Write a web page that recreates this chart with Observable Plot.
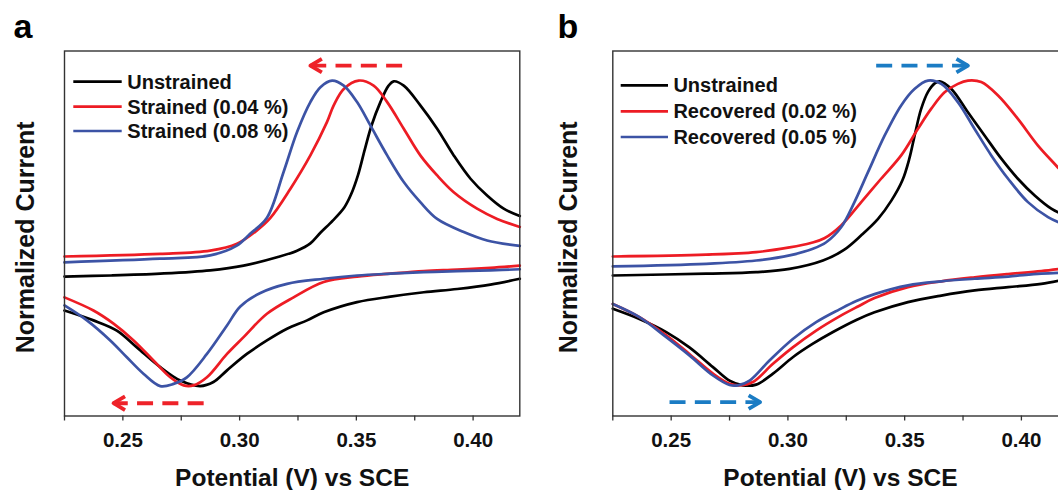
<!DOCTYPE html>
<html><head><meta charset="utf-8">
<script src="https://cdn.jsdelivr.net/npm/d3@7"></script>
<script src="https://cdn.jsdelivr.net/npm/@observablehq/plot@0.6"></script>
<style>
html,body{margin:0;padding:0;background:#fff;overflow:hidden;}
#wrap{position:relative;width:1058px;height:490px;overflow:hidden;background:#fff;}
#pa{position:absolute;left:0;top:0;width:529px;height:490px;}
#pb{position:absolute;left:529px;top:0;width:548px;height:490px;}
</style></head><body><div id="wrap"><div id="pa"></div><div id="pb"></div></div>
<script>
const FONT = "'Liberation Sans', Arial, Helvetica, sans-serif";

// x axis
const xDomain = [0.225, 0.42];
const majorTicks = [0.25, 0.30, 0.35, 0.40];
const minorTicks = [0.225, 0.275, 0.325, 0.375];
const xLabel = "Potential (V) vs SCE";
const yLabel = "Normalized Current";

// series names and colours
const namesA = ["Unstrained", "Strained (0.04 %)", "Strained (0.08 %)"];
const namesB = ["Unstrained", "Recovered (0.02 %)", "Recovered (0.05 %)"];
const lineColors = ["#000000", "#ed1c24", "#3c53a5"];

// Panel a: forward (upper) and reverse (lower) sweeps, [potential, normalized current]
const aUnstrainedFwd = [[0.2250,38.2],[0.2450,38.5],[0.2660,39.0],[0.2874,39.9],[0.3017,41.2],[0.3160,43.5],[0.3246,45.3],[0.3303,47.3],[0.3346,50.2],[0.3400,53.6],[0.3449,57.2],[0.3478,60.8],[0.3507,66.0],[0.3536,73.0],[0.3565,79.6],[0.3603,86.0],[0.3638,90.5],[0.3660,91.7],[0.3703,90.5],[0.3774,85.1],[0.3846,78.7],[0.3917,71.4],[0.3989,65.0],[0.4060,60.4],[0.4131,56.8],[0.4200,54.8]];
const aUnstrainedRev = [[0.4200,37.6],[0.4074,36.0],[0.3932,34.8],[0.3789,33.9],[0.3646,32.7],[0.3503,31.2],[0.3360,28.4],[0.3289,26.2],[0.3203,23.9],[0.3117,20.7],[0.3031,17.0],[0.2946,12.5],[0.2888,9.3],[0.2831,8.2],[0.2746,9.7],[0.2660,13.4],[0.2560,18.8],[0.2474,23.4],[0.2374,26.2],[0.2250,28.9]];
const aStrain04Fwd = [[0.2250,43.7],[0.2660,44.4],[0.2874,45.3],[0.2989,47.2],[0.3073,50.8],[0.3131,54.2],[0.3217,62.2],[0.3303,71.4],[0.3374,80.5],[0.3403,85.1],[0.3446,89.6],[0.3510,91.9],[0.3574,90.5],[0.3632,86.0],[0.3703,78.7],[0.3774,71.4],[0.3846,65.9],[0.3917,61.3],[0.4017,56.8],[0.4103,54.0],[0.4200,51.8]];
const aStrain04Rev = [[0.4200,41.2],[0.4074,40.6],[0.3932,40.1],[0.3789,39.7],[0.3646,39.0],[0.3503,38.2],[0.3360,36.7],[0.3231,32.5],[0.3117,28.0],[0.3017,21.6],[0.2946,17.0],[0.2860,10.6],[0.2803,8.4],[0.2760,8.4],[0.2703,10.6],[0.2631,15.2],[0.2546,20.7],[0.2460,25.3],[0.2374,28.9],[0.2250,32.5]];
const aStrain08Fwd = [[0.2250,42.1],[0.2660,43.1],[0.2874,44.0],[0.2986,46.6],[0.3045,49.9],[0.3117,54.3],[0.3188,66.8],[0.3246,77.8],[0.3303,86.0],[0.3346,90.1],[0.3396,91.9],[0.3446,90.5],[0.3503,86.0],[0.3560,79.6],[0.3632,71.4],[0.3703,64.1],[0.3774,58.6],[0.3846,54.0],[0.3960,50.4],[0.4060,48.1],[0.4200,46.6]];
const aStrain08Rev = [[0.4200,40.2],[0.4074,39.9],[0.3932,39.7],[0.3789,39.4],[0.3646,39.0],[0.3503,38.5],[0.3360,37.6],[0.3203,36.2],[0.3089,33.7],[0.3003,30.0],[0.2946,24.8],[0.2860,17.0],[0.2774,10.6],[0.2717,8.8],[0.2660,8.2],[0.2588,11.6],[0.2517,16.1],[0.2446,20.7],[0.2346,26.2],[0.2250,30.3]];

// Panel b
const bUnstrainedFwd = [[0.2250,38.5],[0.2650,39.0],[0.2864,39.4],[0.3007,40.3],[0.3150,42.6],[0.3240,45.5],[0.3314,49.5],[0.3386,54.0],[0.3443,59.0],[0.3490,64.5],[0.3520,70.5],[0.3545,77.5],[0.3570,84.0],[0.3600,88.8],[0.3630,91.2],[0.3650,91.7],[0.3700,89.6],[0.3771,83.2],[0.3843,76.8],[0.3914,70.5],[0.3985,65.0],[0.4057,60.4],[0.4128,56.8],[0.4200,54.6]];
const bUnstrainedRev = [[0.4200,37.6],[0.4085,36.2],[0.3943,35.3],[0.3800,34.4],[0.3657,33.0],[0.3514,31.2],[0.3371,28.4],[0.3293,26.3],[0.3193,23.0],[0.3107,19.8],[0.3021,16.1],[0.2936,11.6],[0.2864,8.6],[0.2807,8.4],[0.2750,9.7],[0.2679,13.4],[0.2578,18.8],[0.2479,23.0],[0.2364,26.6],[0.2250,29.4]];
const bRecov02Fwd = [[0.2250,43.7],[0.2650,44.2],[0.2864,44.9],[0.3007,46.2],[0.3098,47.4],[0.3156,48.7],[0.3228,52.2],[0.3314,58.6],[0.3399,65.0],[0.3485,71.4],[0.3557,78.7],[0.3614,84.2],[0.3671,88.7],[0.3728,91.0],[0.3771,91.9],[0.3828,91.5],[0.3900,87.8],[0.3985,81.4],[0.4071,74.1],[0.4162,67.7],[0.4200,64.8]];
const bRecov02Rev = [[0.4200,40.6],[0.4085,39.7],[0.3943,38.9],[0.3800,38.0],[0.3657,36.9],[0.3514,35.3],[0.3371,32.3],[0.3300,30.0],[0.3221,27.3],[0.3121,23.4],[0.3021,18.8],[0.2936,14.3],[0.2850,9.3],[0.2793,8.4],[0.2750,8.8],[0.2679,11.6],[0.2578,17.0],[0.2479,22.1],[0.2364,27.1],[0.2250,30.7]];
const bRecov05Fwd = [[0.2250,41.0],[0.2650,41.7],[0.2864,42.6],[0.3007,44.0],[0.3107,45.8],[0.3164,47.6],[0.3228,51.7],[0.3285,58.6],[0.3343,66.8],[0.3414,76.8],[0.3485,85.1],[0.3542,89.6],[0.3600,91.9],[0.3657,91.0],[0.3728,86.0],[0.3799,78.7],[0.3871,71.4],[0.3943,65.0],[0.4028,58.6],[0.4114,54.5],[0.4200,52.0]];
const bRecov05Rev = [[0.4200,39.3],[0.4085,39.0],[0.3943,38.2],[0.3800,37.6],[0.3657,36.9],[0.3514,35.8],[0.3371,33.4],[0.3293,31.5],[0.3221,29.2],[0.3121,25.7],[0.3021,21.1],[0.2921,15.2],[0.2836,9.7],[0.2786,8.4],[0.2750,8.5],[0.2679,11.1],[0.2578,16.6],[0.2479,21.6],[0.2364,27.1],[0.2250,30.7]];

// shift arrows: start potential, tip potential, level
const arrowStartA = [0.3696, 0.2846];
const arrowTipA = [0.3303, 0.2460];
const arrowLevelA = [96.0, 3.5];
const arrowStartB = [0.3378, 0.2493];
const arrowTipB = [0.3771, 0.2881];
const arrowLevelB = [96.0, 3.8];

const chevron = {
  draw(ctx, l) {
    ctx.moveTo(-6.8, -l + 11.5);
    ctx.lineTo(0, -l);
    ctx.lineTo(6.8, -l + 11.5);
  }
};

function panel(cfg) {
  const marks = [];
  cfg.series.forEach((br, s) => {
    const rows = [];
    br.forEach((arr, b) => arr.forEach(([x, y]) => rows.push({x, y, b})));
    marks.push(Plot.line(rows, {x: "x", y: "y", z: "b", stroke: lineColors[s], strokeWidth: 2.7, curve: "catmull-rom"}));
  });
  const idx = cfg.arrowStart.map((_, i) => i);
  marks.push(Plot.link(idx, {
    x1: i => cfg.arrowStart[i], x2: i => cfg.arrowTip[i],
    y1: i => cfg.arrowLevel[i], y2: i => cfg.arrowLevel[i],
    stroke: cfg.arrowColor, strokeWidth: 3.8, strokeDasharray: "16,9.3"
  }));
  marks.push(Plot.vector(idx, {
    x: i => cfg.arrowTip[i], y: i => cfg.arrowLevel[i],
    rotate: i => cfg.arrowTip[i] > cfg.arrowStart[i] ? 90 : -90,
    length: 12, anchor: "end", shape: chevron,
    stroke: cfg.arrowColor, strokeWidth: 3.8, strokeLinejoin: "round", strokeLinecap: "butt"
  }));
  marks.push(Plot.frame({stroke: "#333", strokeWidth: 1.4}));
  marks.push(Plot.axisX(majorTicks, {tickSize: 5, tickPadding: 11, tickFormat: d3.format(".2f"),
    fontSize: 20.5, fontWeight: "bold", label: null, stroke: "#333", strokeWidth: 1.3, fill: "#111"}));
  marks.push(Plot.axisX(minorTicks, {tickSize: 5, tickFormat: () => "", label: null, stroke: "#333", strokeWidth: 1.3}));
  marks.push(Plot.text([xLabel], {text: d => d, frameAnchor: "bottom", dy: 69.8, lineAnchor: "bottom",
    fontSize: 24.5, fontWeight: "bold", fill: "#111"}));
  marks.push(Plot.text([yLabel], {text: d => d, frameAnchor: "left", rotate: -90, dx: cfg.yLabelDx, dy: 3.8,
    lineAnchor: "bottom", textAnchor: "middle", fontSize: 25, fontWeight: "bold", fill: "#111"}));
  marks.push(Plot.text([cfg.letter], {text: d => d, frameAnchor: "top-left", dx: cfg.letterDx, dy: -13.3,
    lineAnchor: "bottom", textAnchor: "start", fontSize: 34, fontWeight: "bold", fill: "#000"}));

  const svg = Plot.plot({
    width: cfg.width, height: 490,
    marginTop: 50.5, marginBottom: 74.5, marginLeft: cfg.marginLeft, marginRight: cfg.marginRight,
    x: {domain: xDomain},
    y: {domain: [0, 100], axis: null},
    style: {fontFamily: FONT, background: "transparent", overflow: "visible", maxWidth: "none"},
    marks
  });

  // legend
  const g = d3.select(svg).append("g")
    .attr("font-family", FONT).attr("font-size", 20).attr("font-weight", "bold")
    .attr("fill", "#111").attr("text-anchor", "start");
  cfg.names.forEach((n, i) => {
    const y = cfg.legendRows[i];
    g.append("line").attr("x1", cfg.legendX1).attr("x2", cfg.legendX2).attr("y1", y).attr("y2", y)
      .attr("stroke", lineColors[i]).attr("stroke-width", 2.7);
    g.append("text").attr("x", cfg.legendTextX).attr("y", y + 6.9).attr("text-anchor", "start").text(n);
  });
  cfg.el.appendChild(svg);
}

panel({
  el: document.getElementById("pa"), width: 529, marginLeft: 64, marginRight: 9.7,
  series: [[aUnstrainedFwd, aUnstrainedRev], [aStrain04Fwd, aStrain04Rev], [aStrain08Fwd, aStrain08Rev]],
  names: namesA,
  arrowStart: arrowStartA, arrowTip: arrowTipA, arrowLevel: arrowLevelA, arrowColor: "#ee2229",
  letter: "a", letterDx: -51, yLabelDx: -30.7,
  legendX1: 73.3, legendX2: 121.7, legendTextX: 127.3, legendRows: [81.7, 106.7, 131.0]
});
panel({
  el: document.getElementById("pb"), width: 548, marginLeft: 83.3, marginRight: 9.4,
  series: [[bUnstrainedFwd, bUnstrainedRev], [bRecov02Fwd, bRecov02Rev], [bRecov05Fwd, bRecov05Rev]],
  names: namesB,
  arrowStart: arrowStartB, arrowTip: arrowTipB, arrowLevel: arrowLevelB, arrowColor: "#1b7cc4",
  letter: "b", letterDx: -55.3, yLabelDx: -36.2,
  legendX1: 620.7 - 529, legendX2: 668 - 529, legendTextX: 673.4 - 529, legendRows: [85.4, 111.4, 137.0]
});
</script></body></html>
